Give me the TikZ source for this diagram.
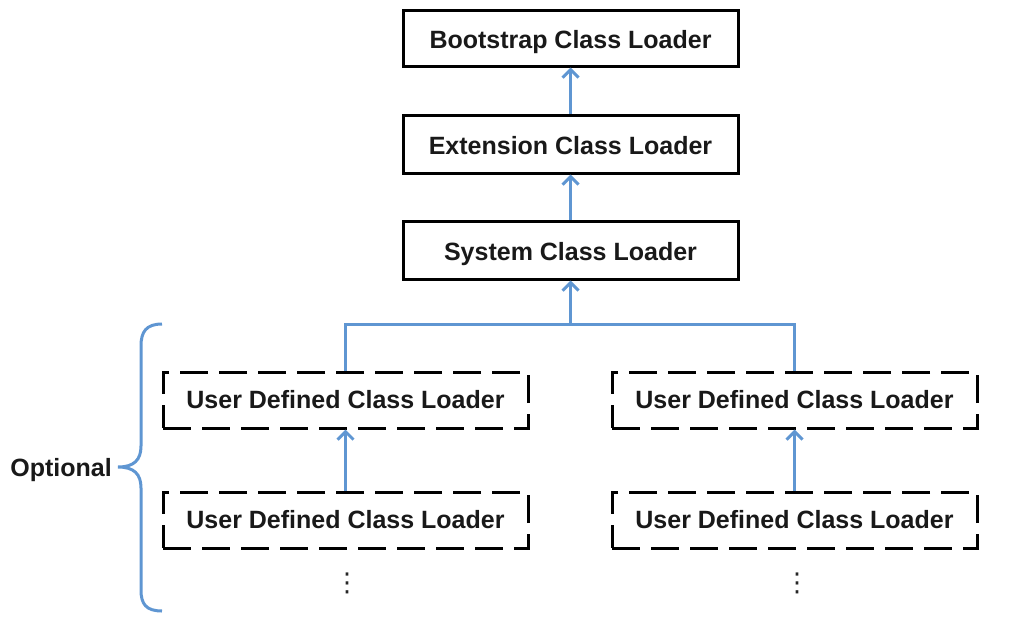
\documentclass[tikz,border=0pt]{standalone}
\usepackage{fontspec}
\setmainfont{Liberation Sans}
\newfontfamily\symfont{DejaVu Sans}
\usetikzlibrary{arrows.meta}
\definecolor{lineblue}{RGB}{95,150,210}
\tikzset{
  lbl/.style={font=\fontsize{25}{30}\selectfont\bfseries, text=black!90},
  solidbox/.style={lbl, draw=black, line width=3pt, minimum width=335pt, minimum height=56pt, inner sep=0pt, text height=20pt, text depth=0pt},
  dashbox/.style={lbl, draw=black, line width=3pt, dash pattern=on 28pt off 11pt, minimum width=365pt, minimum height=56pt, inner sep=0pt, text height=18pt, text depth=2pt},
  conn/.style={draw=lineblue, line width=3pt},
  arr/.style={conn, -{Straight Barb[length=8pt,width=16pt,line width=3pt]}},
  dotsstyle/.style={font=\symfont\fontsize{26}{30}\selectfont, inner sep=0pt, text=black!85},
}
\begin{document}
\begin{tikzpicture}[x=1pt,y=-1pt]
\useasboundingbox (0,0) rectangle (1023,616);
\node[solidbox] (boot) at (570.5,38) {Bootstrap Class Loader};
\node[solidbox, minimum height=58pt] (ext) at (570.5,144) {Extension Class Loader};
\node[solidbox, minimum height=58pt] (sys) at (570.5,250) {System Class Loader};
\node[dashbox] (ul1) at (345.5,400) {User Defined Class Loader};
\node[dashbox] (ul2) at (345.5,520) {User Defined Class Loader};
\node[dashbox] (ur1) at (794.5,400) {User Defined Class Loader};
\node[dashbox] (ur2) at (794.5,520) {User Defined Class Loader};
\node[dotsstyle] (dl) at (347,583) {⋮};
\node[dotsstyle] (dr) at (797,583) {⋮};
\node[lbl, text height=18pt, text depth=0pt] (opt) at (61,467) {Optional};
\coordinate (j) at (570.5,324);
\draw[arr] (ext.north) -- (boot.south);
\draw[arr] (sys.north) -- (ext.south);
\draw[arr] (j) -- (sys.south);
\draw[conn] (ul1.north) |- (j) -| (ur1.north);
\draw[arr] (ul2.north) -- (ul1.south);
\draw[arr] (ur2.north) -- (ur1.south);
\draw[conn] (162,324) .. controls (146,324) and (141,332) .. (141,346)
  -- (141,446) .. controls (141,460) and (134,467) .. (118,467)
  .. controls (134,467) and (141,474) .. (141,488)
  -- (141,590) .. controls (141,604) and (146,611) .. (162,611);
\end{tikzpicture}
\end{document}
